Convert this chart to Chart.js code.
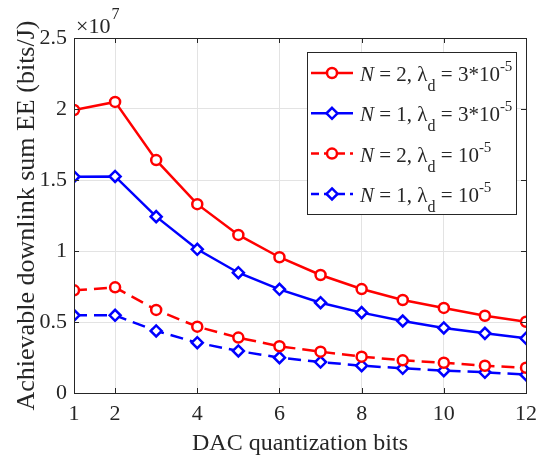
<!DOCTYPE html>
<html>
<head>
<meta charset="utf-8">
<script src="https://cdn.jsdelivr.net/npm/chart.js@4.4.0/dist/chart.umd.min.js"></script>
<style>
    html, body { margin: 0; padding: 0; background: #fff; }
    #wrap { width: 547px; height: 459px; }
</style>
</head>
<body>
<div id="wrap"><canvas id="myChart" width="547" height="459"></canvas></div>
<script>
// x axis: DAC quantization bits
const bits = [1, 2, 3, 4, 5, 6, 7, 8, 9, 10, 11, 12];
const xTicks = [1, 2, 4, 6, 8, 10, 12];
const yTicks = [0, 0.5, 1, 1.5, 2, 2.5];

// achievable downlink sum EE, in units of 1e7 bits/J
const eeN2High = [1.993, 2.05, 1.64, 1.33, 1.113, 0.956, 0.831, 0.732, 0.655, 0.599, 0.544, 0.502];
const eeN1High = [1.523, 1.525, 1.242, 1.012, 0.847, 0.730, 0.636, 0.566, 0.507, 0.458, 0.420, 0.385];
const eeN2Low = [0.723, 0.744, 0.585, 0.467, 0.390, 0.329, 0.291, 0.256, 0.230, 0.213, 0.192, 0.178];
const eeN1Low = [0.547, 0.547, 0.437, 0.354, 0.296, 0.249, 0.218, 0.192, 0.174, 0.157, 0.146, 0.129];

const RED = '#ff0000';
const BLUE = '#0000ff';
const AXIS = '#262626';
const FONT = "'Liberation Serif', 'Times New Roman', serif";

// legend rows: text pieces (N italic, subscript d, superscript exponent)
const legendRows = [
    { color: RED, style: 'circle', dash: [], n: '2', coef: '3*10' },
    { color: BLUE, style: 'rectRot', dash: [], n: '1', coef: '3*10' },
    { color: RED, style: 'circle', dash: [8, 5], n: '2', coef: '10' },
    { color: BLUE, style: 'rectRot', dash: [8, 5], n: '1', coef: '10' },
];

function makeSet(label, data, color, style, dashed) {
    return {
        label: label,
        data: bits.map((b, i) => ({ x: b, y: data[i] })),
        borderColor: color,
        backgroundColor: '#fff',
        borderWidth: 2.5,
        borderDash: dashed ? [13, 7] : [],
        pointStyle: style,
        pointRadius: style === 'circle' ? 5 : 5.5,
        pointBorderWidth: 2.5,
        pointBackgroundColor: '#fff',
        pointBorderColor: color,
        tension: 0,
        fill: false,
    };
}

function drawMarker(ctx, style, x, y, color) {
    ctx.save();
    ctx.setLineDash([]);
    ctx.lineWidth = 2.5;
    ctx.strokeStyle = color;
    ctx.fillStyle = '#fff';
    ctx.beginPath();
    if (style === 'circle') {
        ctx.arc(x, y, 5, 0, Math.PI * 2);
    } else {
        ctx.moveTo(x, y - 5.5);
        ctx.lineTo(x + 5.5, y);
        ctx.lineTo(x, y + 5.5);
        ctx.lineTo(x - 5.5, y);
        ctx.closePath();
    }
    ctx.fill();
    ctx.stroke();
    ctx.restore();
}

// frame, inner ticks, exponent label and the legend box
const matlabFrame = {
    id: 'matlabFrame',
    afterDraw(chart) {
        const { ctx, chartArea: a } = chart;
        const xs = chart.scales.x, ys = chart.scales.y;
        ctx.save();
        ctx.strokeStyle = AXIS;
        ctx.lineWidth = 1;
        ctx.setLineDash([]);
        ctx.strokeRect(a.left + 0.5, a.top + 0.5, a.right - a.left, a.bottom - a.top);
        ctx.beginPath();
        xTicks.forEach(v => {
            const px = Math.round(xs.getPixelForValue(v)) + 0.5;
            ctx.moveTo(px, a.bottom); ctx.lineTo(px, a.bottom - 5);
            ctx.moveTo(px, a.top); ctx.lineTo(px, a.top + 5);
        });
        yTicks.forEach(v => {
            const py = Math.round(ys.getPixelForValue(v)) + 0.5;
            ctx.moveTo(a.left, py); ctx.lineTo(a.left + 5, py);
            ctx.moveTo(a.right, py); ctx.lineTo(a.right - 5, py);
        });
        ctx.stroke();

        // x10^7
        ctx.fillStyle = AXIS;
        ctx.textBaseline = 'alphabetic';
        ctx.textAlign = 'left';
        ctx.font = '22px ' + FONT;
        ctx.fillText('\u00d710', a.left + 2, a.top - 5);
        const w = ctx.measureText('\u00d710').width;
        ctx.font = '16px ' + FONT;
        ctx.fillText('7', a.left + 3 + w, a.top - 19);

        // legend
        const box = { x: 307, y: 52, w: 209, h: 162 };
        ctx.fillStyle = '#fff';
        ctx.fillRect(box.x, box.y, box.w, box.h);
        ctx.strokeStyle = AXIS;
        ctx.strokeRect(box.x + 0.5, box.y + 0.5, box.w, box.h);
        legendRows.forEach((row, i) => {
            const cy = box.y + 21 + i * 40.3;
            ctx.save();
            ctx.strokeStyle = row.color;
            ctx.lineWidth = 2.5;
            ctx.setLineDash(row.dash);
            ctx.beginPath();
            ctx.moveTo(box.x + 4, cy);
            ctx.lineTo(box.x + 46, cy);
            ctx.stroke();
            ctx.restore();
            drawMarker(ctx, row.style, box.x + 25, cy, row.color);

            const base = cy + 8;
            let tx = box.x + 53;
            const pieces = [
                { t: 'N', f: 'italic 21px ', dy: 0 },
                { t: ' = ' + row.n + ', \u03bb', f: '21px ', dy: 0 },
                { t: 'd', f: '16px ', dy: 10 },
                { t: ' = ' + row.coef, f: '21px ', dy: 0 },
                { t: '-5', f: '15px ', dy: -10 },
            ];
            ctx.fillStyle = AXIS;
            pieces.forEach(p => {
                ctx.font = p.f + FONT;
                ctx.fillText(p.t, tx, base + p.dy);
                tx += ctx.measureText(p.t).width;
            });
        });
        ctx.restore();
    }
};

const ctx = document.getElementById('myChart').getContext('2d');
const myChart = new Chart(ctx, {
    type: 'line',
    data: {
        datasets: [
            makeSet('N = 2, λd = 3*10^-5', eeN2High, RED, 'circle', false),
            makeSet('N = 1, λd = 3*10^-5', eeN1High, BLUE, 'rectRot', false),
            makeSet('N = 2, λd = 10^-5', eeN2Low, RED, 'circle', true),
            makeSet('N = 1, λd = 10^-5', eeN1Low, BLUE, 'rectRot', true),
        ]
    },
    options: {
        responsive: false,
        animation: false,
        devicePixelRatio: 1,
        layout: { padding: { left: 0, top: 38, right: 21, bottom: 0 } },
        plugins: {
            legend: { display: false },
            tooltip: { enabled: false },
        },
        scales: {
            x: {
                type: 'linear',
                min: 1,
                max: 12,
                afterBuildTicks: s => { s.ticks = xTicks.map(v => ({ value: v })); },
                afterFit: s => { s.height = 66; },
                grid: { color: '#e3e3e3', drawTicks: false },
                border: { display: false },
                ticks: { font: { family: FONT, size: 22 }, color: AXIS, padding: 8, maxRotation: 0 },
                title: {
                    display: true,
                    text: 'DAC quantization bits',
                    font: { family: FONT, size: 24 },
                    color: AXIS,
                    padding: { top: 0, bottom: 1 },
                },
            },
            y: {
                min: 0,
                max: 2.5,
                afterBuildTicks: s => { s.ticks = yTicks.map(v => ({ value: v })); },
                afterFit: s => { s.width = 74; },
                grid: { color: '#e3e3e3', drawTicks: false },
                border: { display: false },
                ticks: { font: { family: FONT, size: 22 }, color: AXIS, padding: 7, callback: v => String(v) },
                title: {
                    display: true,
                    text: 'Achievable downlink sum EE (bits/J)',
                    font: { family: FONT, size: 26 },
                    color: AXIS,
                    padding: { top: 12, bottom: 0 },
                },
            }
        }
    },
    plugins: [matlabFrame]
});
</script>
</body>
</html>
